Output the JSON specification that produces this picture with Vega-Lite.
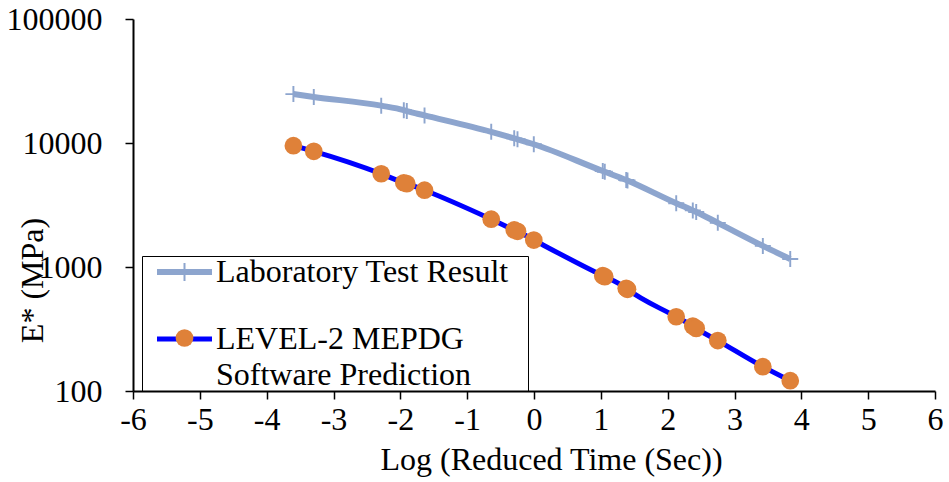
{
  "$schema": "https://vega.github.io/schema/vega-lite/v6.json",
  "width": 802,
  "height": 372,
  "autosize": {"type": "none"},
  "padding": {"left": 133, "top": 19, "right": 14, "bottom": 91},
  "config": {
    "font": "Liberation Serif, DejaVu Serif, serif",
    "view": {"stroke": null},
    "axis": {
      "domainColor": "black", "domainWidth": 2,
      "tickColor": "black", "tickWidth": 1.5, "tickSize": 8,
      "labelColor": "black", "labelFont": "Liberation Serif, DejaVu Serif, serif", "labelFontSize": 32,
      "titleFont": "Liberation Serif, DejaVu Serif, serif", "titleFontSize": 32, "titleFontWeight": "normal", "titleColor": "black",
      "grid": false
    },
    "legend": {"labelFont": "Liberation Serif, DejaVu Serif, serif"}
  },
  "datasets": {
    "lab": [
      {"t": -3.6, "E": 24800, "series": "Laboratory Test Result"},
      {"t": -3.295, "E": 23500, "series": "Laboratory Test Result"},
      {"t": -2.286, "E": 20000, "series": "Laboratory Test Result"},
      {"t": -1.948, "E": 18400, "series": "Laboratory Test Result"},
      {"t": -1.903, "E": 18100, "series": "Laboratory Test Result"},
      {"t": -1.638, "E": 16700, "series": "Laboratory Test Result"},
      {"t": -0.64, "E": 12300, "series": "Laboratory Test Result"},
      {"t": -0.296, "E": 10900, "series": "Laboratory Test Result"},
      {"t": -0.247, "E": 10710, "series": "Laboratory Test Result"},
      {"t": -0.003, "E": 9770, "series": "Laboratory Test Result"},
      {"t": 1.029, "E": 5940, "series": "Laboratory Test Result"},
      {"t": 1.059, "E": 5857, "series": "Laboratory Test Result"},
      {"t": 1.38, "E": 5030, "series": "Laboratory Test Result"},
      {"t": 1.399, "E": 4980, "series": "Laboratory Test Result"},
      {"t": 2.128, "E": 3270, "series": "Laboratory Test Result"},
      {"t": 2.376, "E": 2860, "series": "Laboratory Test Result"},
      {"t": 2.427, "E": 2780, "series": "Laboratory Test Result"},
      {"t": 2.75, "E": 2270, "series": "Laboratory Test Result"},
      {"t": 3.424, "E": 1480, "series": "Laboratory Test Result"},
      {"t": 3.834, "E": 1160, "series": "Laboratory Test Result"}
    ],
    "pred": [
      {"t": -3.6, "E": 9510, "series": "LEVEL-2 MEPDG Software Prediction", "marker": "MEPDG"},
      {"t": -3.295, "E": 8570, "series": "LEVEL-2 MEPDG Software Prediction", "marker": "MEPDG"},
      {"t": -2.286, "E": 5650, "series": "LEVEL-2 MEPDG Software Prediction", "marker": "MEPDG"},
      {"t": -1.948, "E": 4780, "series": "LEVEL-2 MEPDG Software Prediction", "marker": "MEPDG"},
      {"t": -1.903, "E": 4700, "series": "LEVEL-2 MEPDG Software Prediction", "marker": "MEPDG"},
      {"t": -1.638, "E": 4160, "series": "LEVEL-2 MEPDG Software Prediction", "marker": "MEPDG"},
      {"t": -0.64, "E": 2430, "series": "LEVEL-2 MEPDG Software Prediction", "marker": "MEPDG"},
      {"t": -0.296, "E": 1990, "series": "LEVEL-2 MEPDG Software Prediction", "marker": "MEPDG"},
      {"t": -0.247, "E": 1940, "series": "LEVEL-2 MEPDG Software Prediction", "marker": "MEPDG"},
      {"t": -0.003, "E": 1650, "series": "LEVEL-2 MEPDG Software Prediction", "marker": "MEPDG"},
      {"t": 1.029, "E": 851, "series": "LEVEL-2 MEPDG Software Prediction", "marker": "MEPDG"},
      {"t": 1.059, "E": 836, "series": "LEVEL-2 MEPDG Software Prediction", "marker": "MEPDG"},
      {"t": 1.38, "E": 673, "series": "LEVEL-2 MEPDG Software Prediction", "marker": "MEPDG"},
      {"t": 1.399, "E": 661, "series": "LEVEL-2 MEPDG Software Prediction", "marker": "MEPDG"},
      {"t": 2.128, "E": 397, "series": "LEVEL-2 MEPDG Software Prediction", "marker": "MEPDG"},
      {"t": 2.376, "E": 334, "series": "LEVEL-2 MEPDG Software Prediction", "marker": "MEPDG"},
      {"t": 2.427, "E": 320, "series": "LEVEL-2 MEPDG Software Prediction", "marker": "MEPDG"},
      {"t": 2.75, "E": 255, "series": "LEVEL-2 MEPDG Software Prediction", "marker": "MEPDG"},
      {"t": 3.424, "E": 157, "series": "LEVEL-2 MEPDG Software Prediction", "marker": "MEPDG"},
      {"t": 3.834, "E": 121, "series": "LEVEL-2 MEPDG Software Prediction", "marker": "MEPDG"}
    ]
  },
  "encoding": {
    "x": {
      "field": "t", "type": "quantitative",
      "scale": {"domain": [-6, 6], "nice": false, "zero": false},
      "axis": {
        "values": [-6, -5, -4, -3, -2, -1, 0, 1, 2, 3, 4, 5, 6],
        "labelExpr": "toString(datum.value)",
        "labelPadding": 5, "labelFlush": false, "labelOverlap": false,
        "title": "Log (Reduced Time (Sec))",
        "titleX": 418, "titleY": 78, "titleBaseline": "alphabetic"
      }
    },
    "y": {
      "field": "E", "type": "quantitative",
      "scale": {"type": "log", "domain": [100, 100000], "nice": false},
      "axis": {
        "values": [100, 1000, 10000, 100000],
        "format": "d",
        "labelPadding": 23, "labelFlush": false, "labelOverlap": false,
        "title": "E* (MPa)",
        "titleX": -101, "titleY": 261, "titleAngle": -90, "titleBaseline": "middle", "titleAlign": "center"
      }
    }
  },
  "layer": [
    {
      "data": {"name": "lab"},
      "mark": {"type": "line", "strokeWidth": 6, "interpolate": "monotone"},
      "encoding": {
        "stroke": {
          "field": "series", "type": "nominal",
          "scale": {"domain": ["Laboratory Test Result", "LEVEL-2 MEPDG Software Prediction"], "range": ["#8DA5CE", "#0000FF"]},
          "legend": {
            "orient": "none", "legendX": 9, "legendY": 237,
            "title": null,
            "symbolType": "M-27.5,0H27.5", "symbolSize": 4, "symbolStrokeWidth": 0,
            "symbolOffset": 26.5,
            "labelFontSize": 1, "labelLimit": 500, "labelColor": "black",
            "labelExpr": "datum.label == 'LEVEL-2 MEPDG Software Prediction' ? ['LEVEL-2 MEPDG', 'Software Prediction'] : datum.label",
            "labelOffset": 15.5, "rowPadding": 35,
            "strokeColor": "black", "padding": 0,
            "encode": {
              "symbols": {"update": {
                "shape": {"signal": "datum.value == 'Laboratory Test Result' ? 'M-27.5,-3H-1V-9H1V-3H27.5V3H1V9H-1V3H-27.5ZM343.5,0Z' : 'M-27.5,-2.5H27.5V2.5H-27.5Z'"},
                "fill": {"signal": "datum.value == 'Laboratory Test Result' ? '#8DA5CE' : '#0000FF'"},
                "fillOpacity": {"value": 1},
                "strokeWidth": {"value": 0}
              }},
              "labels": {"update": {"fontSize": {"value": 32}, "lineHeight": {"value": 36}}}
            }
          }
        }
      }
    },
    {
      "data": {"name": "lab"},
      "mark": {"type": "point", "shape": "M-0.12,-1H0.12V-0.12H1V0.12H0.12V1H-0.12V0.12H-1V-0.12H-0.12Z", "size": 256, "filled": true, "color": "#8DA5CE", "opacity": 1}
    },
    {
      "data": {"name": "pred"},
      "mark": {"type": "line", "strokeWidth": 5, "interpolate": "monotone"},
      "encoding": {
        "stroke": {"field": "series", "type": "nominal"}
      }
    },
    {
      "data": {"name": "pred"},
      "mark": {"type": "point", "shape": "circle", "size": 314, "filled": true, "opacity": 1},
      "encoding": {
        "color": {
          "field": "marker", "type": "nominal",
          "scale": {"range": ["#DF8139"]},
          "legend": {
            "orient": "none", "legendX": 42.5, "legendY": 310,
            "title": null, "padding": 0,
            "symbolType": "circle", "symbolSize": 314, "symbolStrokeWidth": 0, "symbolOpacity": 1,
            "labelExpr": "''", "labelFontSize": 1
          }
        }
      }
    }
  ]
}
